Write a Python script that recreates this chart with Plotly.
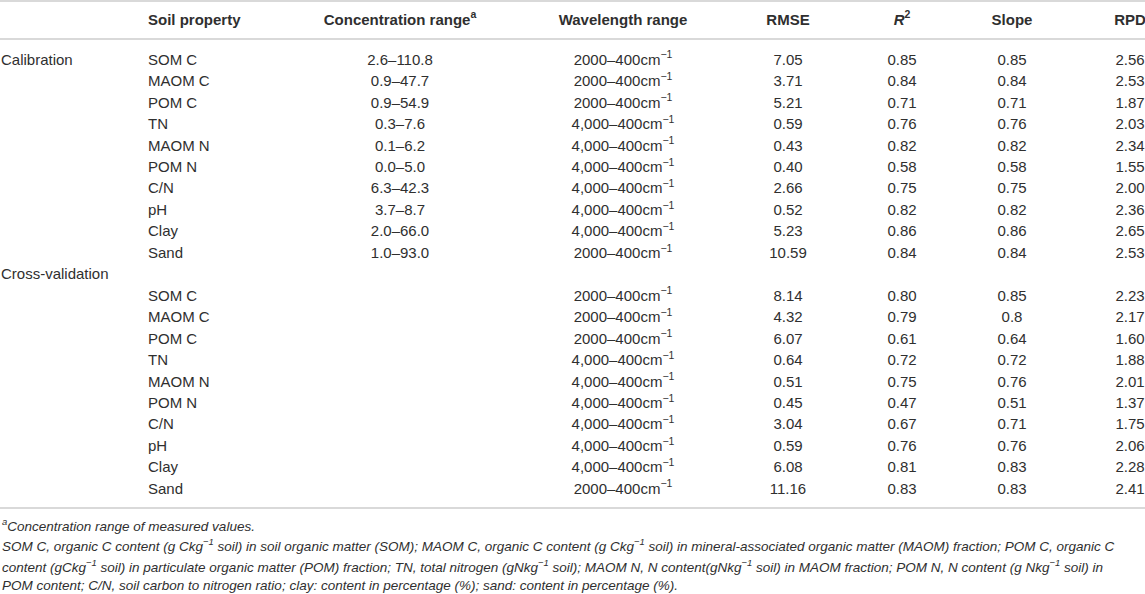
import plotly.graph_objects as go

# table data
groups = ["Calibration", "Cross-validation"]
properties = ["SOM C", "MAOM C", "POM C", "TN", "MAOM N", "POM N", "C/N", "pH", "Clay", "Sand"]
conc_range = ["2.6–110.8", "0.9–47.7", "0.9–54.9", "0.3–7.6", "0.1–6.2",
              "0.0–5.0", "6.3–42.3", "3.7–8.7", "2.0–66.0", "1.0–93.0"]
wave_start = ["2000", "2000", "2000", "4,000", "4,000", "4,000", "4,000", "4,000", "4,000", "2000"]

cal_rmse = ["7.05", "3.71", "5.21", "0.59", "0.43", "0.40", "2.66", "0.52", "5.23", "10.59"]
cal_r2 = ["0.85", "0.84", "0.71", "0.76", "0.82", "0.58", "0.75", "0.82", "0.86", "0.84"]
cal_slope = ["0.85", "0.84", "0.71", "0.76", "0.82", "0.58", "0.75", "0.82", "0.86", "0.84"]
cal_rpd = ["2.56", "2.53", "1.87", "2.03", "2.34", "1.55", "2.00", "2.36", "2.65", "2.53"]

cv_rmse = ["8.14", "4.32", "6.07", "0.64", "0.51", "0.45", "3.04", "0.59", "6.08", "11.16"]
cv_r2 = ["0.80", "0.79", "0.61", "0.72", "0.75", "0.47", "0.67", "0.76", "0.81", "0.83"]
cv_slope = ["0.85", "0.8", "0.64", "0.72", "0.76", "0.51", "0.71", "0.76", "0.83", "0.83"]
cv_rpd = ["2.23", "2.17", "1.60", "1.88", "2.01", "1.37", "1.75", "2.06", "2.28", "2.41"]

headers = ["Soil property", "Concentration range<sup>a</sup>", "Wavelength range",
           "RMSE", "<i>R</i><sup>2</sup>", "Slope", "RPD"]

footnotes = [
    "<sup>a</sup>Concentration range of measured values.",
    "SOM C, organic C content (g Ckg<sup>−1</sup> soil) in soil organic matter (SOM); MAOM C, organic C content "
    "(g Ckg<sup>−1</sup> soil) in mineral-associated organic matter (MAOM) fraction; POM C, organic C",
    "content (gCkg<sup>−1</sup> soil) in particulate organic matter (POM) fraction; TN, total nitrogen "
    "(gNkg<sup>−1</sup> soil); MAOM N, N content(gNkg<sup>−1</sup> soil) in MAOM fraction; POM N, N content "
    "(g Nkg<sup>−1</sup> soil) in",
    "POM content; C/N, soil carbon to nitrogen ratio; clay: content in percentage (%); sand: content in percentage (%).",
]

W, H = 1145, 594
FONT = "Liberation Sans, Arial, sans-serif"
TXT = "#2f2f2f"
LINE = "#d9d9d9"

# layout in pixels
ROW0, ROW_H = 61, 21.45
HEAD_Y = 21
X_GROUP, X_PROP = 1, 148
COL_X = [400, 623, 788, 902, 1012, 1130]   # centred columns
FOOT_Y0, FOOT_H = 525, 20.3


def row_y(i):
    return ROW0 + ROW_H * i


cal_rows = list(range(0, 10))
cv_rows = list(range(11, 21))
wave = [w + "–400cm<sup>−1</sup>" for w in wave_start]

fig = go.Figure()


def add_text(xs, ys, texts, pos="middle center", size=15, bold=False):
    fig.add_trace(go.Scatter(
        x=xs, y=ys, text=texts, mode="text",
        textposition=pos,
        textfont=dict(family=FONT, size=size, color=TXT,
                      weight="bold" if bold else "normal"),
        hoverinfo="skip", showlegend=False,
    ))


# header row
add_text([X_PROP], [HEAD_Y], [headers[0]], pos="middle right", bold=True)
add_text(COL_X, [HEAD_Y] * len(COL_X), headers[1:], bold=True)

# group labels
add_text([X_GROUP, X_GROUP], [row_y(0), row_y(10)], groups, pos="middle right")

# property names
add_text([X_PROP] * 10, [row_y(i) for i in cal_rows], properties, pos="middle right")
add_text([X_PROP] * 10, [row_y(i) for i in cv_rows], properties, pos="middle right")

# concentration range (calibration only)
add_text([COL_X[0]] * 10, [row_y(i) for i in cal_rows], conc_range)

# numeric columns
for rows, cols in [(cal_rows, [wave, cal_rmse, cal_r2, cal_slope, cal_rpd]),
                   (cv_rows, [wave, cv_rmse, cv_r2, cv_slope, cv_rpd])]:
    ys = [row_y(i) for i in rows]
    for cx, vals in zip(COL_X[1:], cols):
        add_text([cx] * len(vals), ys, vals)

# rules
for y in [1, 39, 508]:
    fig.add_shape(type="line", x0=0, x1=W, y0=y, y1=y,
                  line=dict(color=LINE, width=2), layer="below")

# footnotes
for k, note in enumerate(footnotes):
    fig.add_annotation(x=X_GROUP, y=FOOT_Y0 + FOOT_H * k, text="<i>" + note + "</i>",
                       showarrow=False, xanchor="left", yanchor="middle", borderpad=0,
                       font=dict(family=FONT, size=13.5, color=TXT))

fig.update_layout(
    width=W, height=H,
    margin=dict(l=0, r=0, t=0, b=0),
    paper_bgcolor="white", plot_bgcolor="white",
    xaxis=dict(range=[0, W], visible=False, fixedrange=True),
    yaxis=dict(range=[H, 0], visible=False, fixedrange=True),
)

fig.write_html("out.html", config={"displayModeBar": False},
               post_script="document.body.style.margin='0';document.body.style.overflow='hidden';")
